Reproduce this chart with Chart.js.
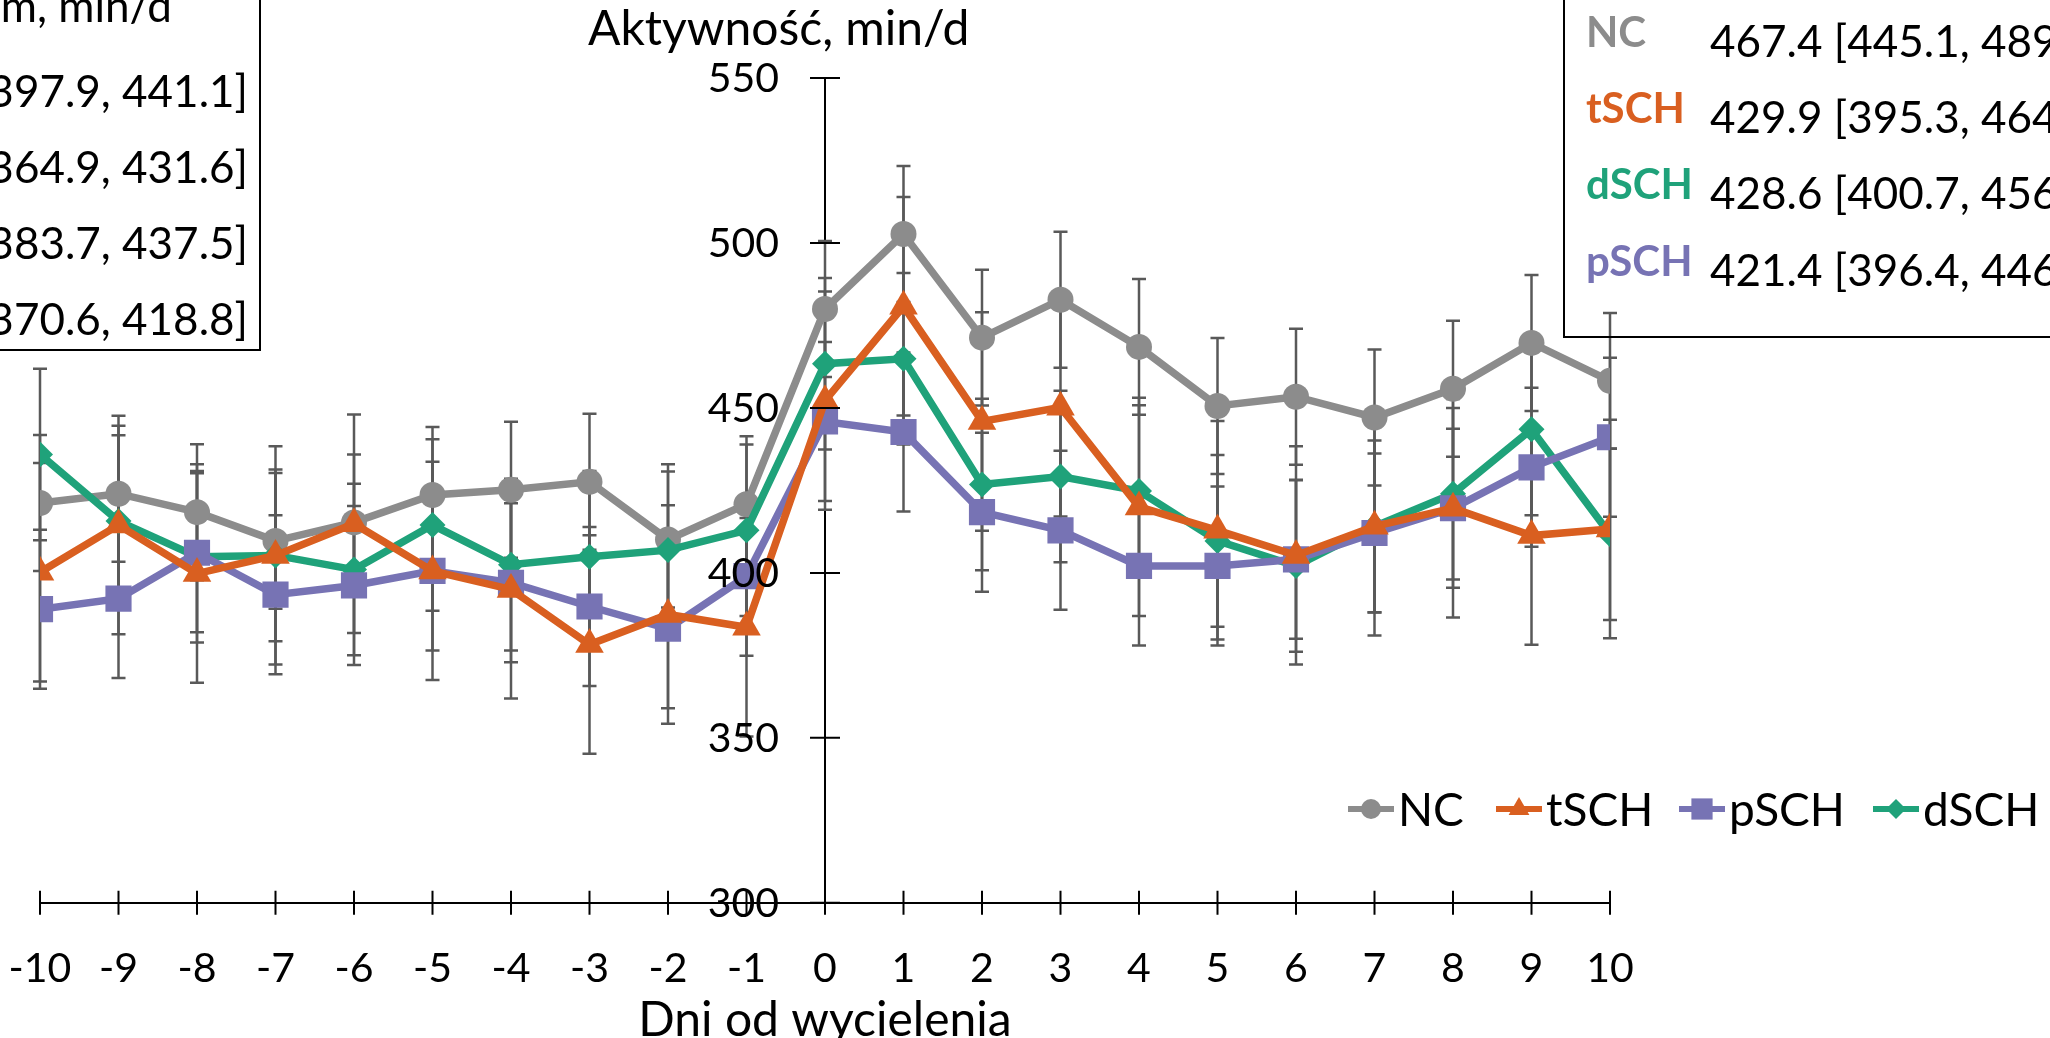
<!DOCTYPE html>
<html>
<head>
<meta charset="utf-8">
<script src="https://cdn.jsdelivr.net/npm/chart.js@4.4.1/dist/chart.umd.min.js"></script>
<style>
  html, body { margin: 0; padding: 0; background: #fff; overflow: hidden; }
  #wrap { width: 2050px; height: 1038px; position: relative; }
</style>
</head>
<body>
<div id="wrap"><canvas id="chart"></canvas></div>
<script>
// dni od wycielenia
const days = [-10, -9, -8, -7, -6, -5, -4, -3, -2, -1, 0, 1, 2, 3, 4, 5, 6, 7, 8, 9, 10];

// aktywnosc, min/d
const nc   = [421.2, 424.0, 418.4, 409.7, 415.3, 423.6, 425.2, 427.6, 410.1, 420.8, 480.0, 502.7, 471.3, 482.8, 468.5, 450.6, 453.4, 447.1, 455.8, 469.7, 458.2];
const tsch = [400.2, 414.5, 399.8, 405.3, 414.9, 400.6, 395.0, 378.3, 387.4, 383.5, 452.2, 480.8, 445.9, 450.2, 420.0, 412.9, 405.3, 414.1, 419.6, 411.3, 413.3];
const psch = [389.0, 392.2, 406.1, 393.4, 396.2, 400.6, 397.0, 389.8, 383.1, 399.0, 445.9, 442.7, 418.4, 412.9, 402.1, 402.1, 404.1, 412.1, 419.6, 432.0, 441.1];
const dsch = [435.9, 415.7, 404.9, 405.3, 401.0, 414.5, 402.5, 404.9, 406.9, 412.9, 463.4, 464.9, 426.8, 429.2, 424.8, 409.7, 402.1, 414.1, 424.0, 443.5, 411.7];

// slupki bledow (SEM)
const ncErr   = [20.6, 20.6, 20.6, 20.6, 20.6, 20.6, 20.6, 20.6, 20.6, 20.6, 20.6, 20.6, 20.6, 20.6, 20.6, 20.6, 20.6, 20.6, 20.6, 20.6, 20.6];
const tschErr = [33.1, 33.1, 33.1, 33.1, 33.1, 33.1, 33.1, 33.1, 33.1, 33.1, 33.1, 33.1, 33.1, 33.1, 33.1, 33.1, 33.1, 33.1, 33.1, 33.1, 33.1];
const pschErr = [24.1, 24.1, 24.1, 24.1, 24.1, 24.1, 24.1, 24.1, 24.1, 24.1, 24.1, 24.1, 24.1, 24.1, 24.1, 24.1, 24.1, 24.1, 24.1, 24.1, 24.1];
const dschErr = [26.0, 26.0, 26.0, 26.0, 26.0, 26.0, 26.0, 26.0, 26.0, 26.0, 26.0, 26.0, 26.0, 26.0, 26.0, 26.0, 26.0, 26.0, 26.0, 26.0, 26.0];

const yTicks = [300, 350, 400, 450, 500, 550];

// tabelki ze srednimi
const groups = ["NC", "tSCH", "dSCH", "pSCH"];
const beforeText = ["419.5 [397.9, 441.1]", "398.3 [364.9, 431.6]", "410.6 [383.7, 437.5]", "394.7 [370.6, 418.8]"];
const afterText = ["467.4 [445.1, 489.7]", "429.9 [395.3, 464.5]", "428.6 [400.7, 456.5]", "421.4 [396.4, 446.4]"];

const colours = { NC: "#8C8C8C", tSCH: "#D95F20", pSCH: "#7773B4", dSCH: "#1FA27A" };
const FONT = "Lato";

function points(values) {
    return days.map((d, i) => ({ x: d, y: values[i] }));
}

function makeSet(label, values, errors, style, radius, order) {
    return {
        label: label,
        data: points(values),
        errors: errors,
        borderColor: colours[label],
        backgroundColor: colours[label],
        pointBackgroundColor: colours[label],
        pointBorderColor: colours[label],
        borderWidth: 7.5,
        pointStyle: style,
        pointRadius: radius,
        pointBorderWidth: 0,
        tension: 0,
        order: order
    };
}

// slupki bledow pod liniami
const errorBars = {
    id: "errorBars",
    beforeDatasetsDraw(chart) {
        const ctx = chart.ctx;
        const xs = chart.scales.x;
        const ys = chart.scales.y;
        ctx.save();
        ctx.strokeStyle = "#595959";
        ctx.lineWidth = 2.5;
        chart.data.datasets.forEach(ds => {
            ds.data.forEach((p, i) => {
                const x = xs.getPixelForValue(p.x);
                const top = ys.getPixelForValue(p.y + ds.errors[i]);
                const bot = ys.getPixelForValue(p.y - ds.errors[i]);
                ctx.beginPath();
                ctx.moveTo(x, top); ctx.lineTo(x, bot);
                ctx.moveTo(x - 7, top); ctx.lineTo(x + 7, top);
                ctx.moveTo(x - 7, bot); ctx.lineTo(x + 7, bot);
                ctx.stroke();
            });
        });
        ctx.restore();
    }
};

// kreski na osiach, opisy osi, legenda i tabelki
const extras = {
    id: "extras",
    afterDraw(chart) {
        const ctx = chart.ctx;
        const xs = chart.scales.x;
        const ys = chart.scales.y;
        const y0 = ys.getPixelForValue(300);
        const x0 = xs.getPixelForValue(0);
        ctx.save();
        ctx.strokeStyle = "#000";
        ctx.lineWidth = 2;
        ctx.beginPath();
        days.forEach(d => {
            const x = xs.getPixelForValue(d);
            ctx.moveTo(x, y0 - 12); ctx.lineTo(x, y0 + 12);
        });
        yTicks.forEach(v => {
            const y = ys.getPixelForValue(v);
            ctx.moveTo(x0 - 15, y); ctx.lineTo(x0 + 15, y);
        });
        ctx.stroke();

        // etykiety osi y
        ctx.fillStyle = "#000";
        ctx.font = `41px ${FONT}`;
        ctx.textAlign = "right";
        ctx.textBaseline = "middle";
        yTicks.forEach(v => {
            ctx.fillText(String(v), x0 - 46, ys.getPixelForValue(v) + 1);
        });

        ctx.textBaseline = "alphabetic";
        ctx.font = `48px ${FONT}`;
        ctx.textAlign = "left";
        ctx.fillText("Aktywność, min/d", 588, 45);
        ctx.textAlign = "center";
        ctx.fillText("Dni od wycielenia", (chart.chartArea.left + chart.chartArea.right) / 2, 1036);

        // legenda
        const legend = [
            { label: "NC", style: "circle", r: 10, x: 1348 },
            { label: "tSCH", style: "triangle", r: 12, x: 1496 },
            { label: "pSCH", style: "rect", r: 15, x: 1679 },
            { label: "dSCH", style: "rectRot", r: 10, x: 1873 }
        ];
        const ly = 809;
        legend.forEach(item => {
            ctx.strokeStyle = colours[item.label];
            ctx.fillStyle = colours[item.label];
            ctx.lineWidth = 6;
            ctx.beginPath();
            ctx.moveTo(item.x, ly); ctx.lineTo(item.x + 46, ly);
            ctx.stroke();
            Chart.helpers.drawPoint(ctx, { pointStyle: item.style, radius: item.r, borderWidth: 0, rotation: 0 }, item.x + 23, ly);
            ctx.fillStyle = "#000";
            ctx.font = `46px ${FONT}`;
            ctx.textAlign = "left";
            ctx.fillText(item.label, item.x + 50, ly + 17);
        });

        // tabelka przed wycieleniem (ucieta z lewej)
        ctx.strokeStyle = "#000";
        ctx.lineWidth = 2;
        ctx.strokeRect(-10, -10, 270, 360);
        ctx.fillStyle = "#000";
        ctx.textAlign = "right";
        ctx.font = `44px ${FONT}`;
        ctx.fillText("Przed wycieleniem, min/d", 172, 22);
        const rowsB = [107, 183, 259, 335];
        beforeText.forEach((t, i) => {
            ctx.fillText(t, 248, rowsB[i]);
        });

        // tabelka po wycieleniu (ucieta z prawej)
        ctx.strokeRect(1564, -10, 600, 347);
        const rowsA = [57, 133, 209, 286];
        afterText.forEach((t, i) => {
            ctx.textAlign = "left";
            ctx.fillStyle = colours[groups[i]];
            ctx.font = `bold 42px ${FONT}`;
            ctx.fillText(groups[i], 1586, rowsA[i] - 10);
            ctx.fillStyle = "#000";
            ctx.font = `44px ${FONT}`;
            ctx.fillText(t, 1710, rowsA[i]);
        });
        ctx.restore();
    }
};

Chart.defaults.font.family = FONT;
Chart.defaults.font.size = 41;
Chart.defaults.color = "#000";

const chart = new Chart(document.getElementById("chart"), {
    type: "line",
    data: {
        datasets: [
            makeSet("NC", nc, ncErr, "circle", 13, 3),
            makeSet("tSCH", tsch, tschErr, "triangle", 16.5, 0),
            makeSet("pSCH", psch, pschErr, "rect", 18.5, 1),
            makeSet("dSCH", dsch, dschErr, "rectRot", 13, 2)
        ]
    },
    options: {
        responsive: true,
        maintainAspectRatio: false,
        animation: false,
        layout: { padding: { left: 40, right: 440, top: 78, bottom: 4 } },
        plugins: {
            legend: { display: false },
            tooltip: { enabled: false }
        },
        scales: {
            x: {
                type: "linear",
                min: -10,
                max: 10,
                grid: { display: false, drawTicks: false },
                border: { color: "#000", width: 2 },
                ticks: { stepSize: 1, autoSkip: false, maxRotation: 0, padding: 41 },
                afterFit(scale) {
                    scale.paddingLeft = 0;
                    scale.paddingRight = 0;
                }
            },
            y: {
                type: "linear",
                position: { x: 0 },
                min: 300,
                max: 550,
                grid: { display: false, drawTicks: false },
                border: { color: "#000", width: 2 },
                ticks: { display: false, stepSize: 50 },
                afterFit(scale) {
                    scale.width = 0;
                    scale.paddingTop = 0;
                    scale.paddingBottom = 0;
                }
            }
        }
    },
    plugins: [errorBars, extras]
});
</script>
</body>
</html>
